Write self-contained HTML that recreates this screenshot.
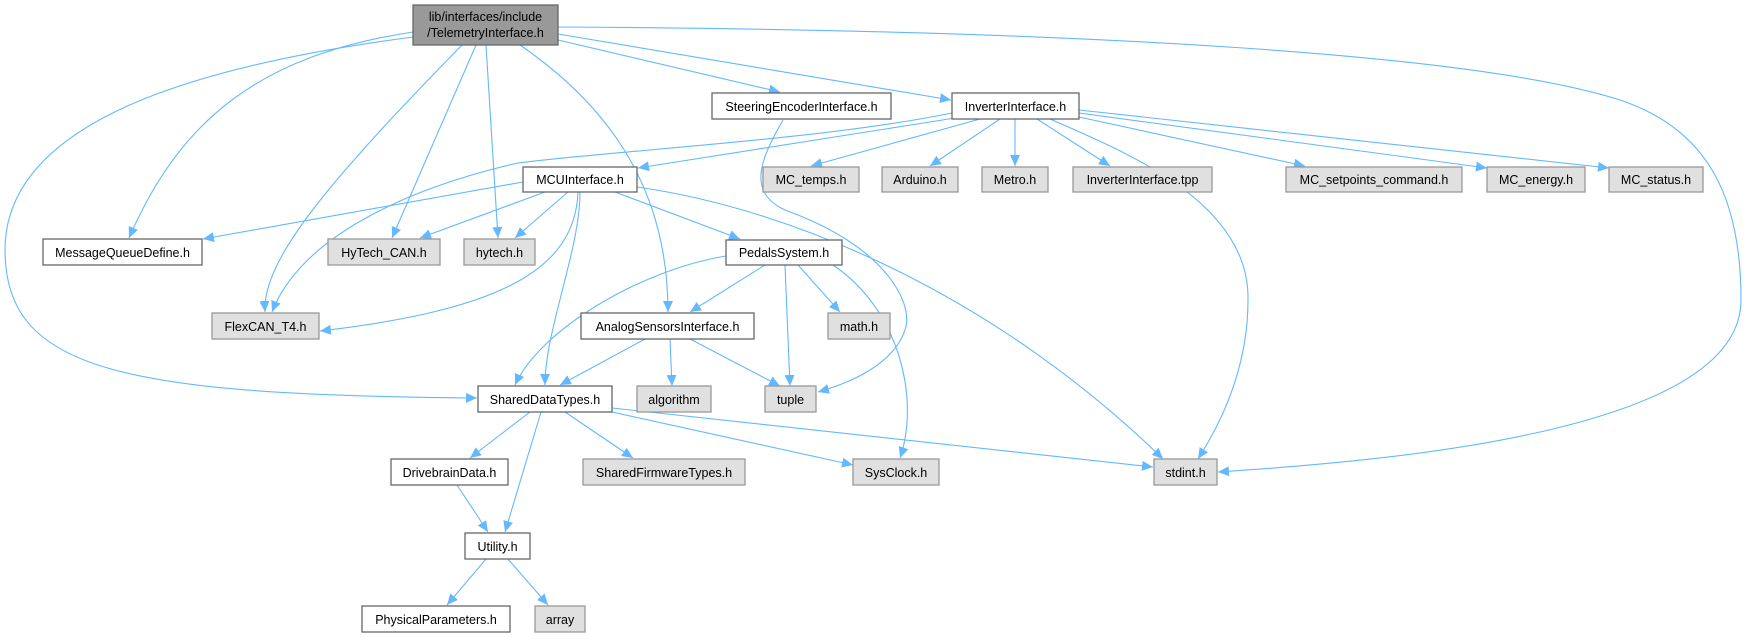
<!DOCTYPE html>
<html><head><meta charset="utf-8"><style>
html,body{margin:0;padding:0;background:#fff;}
svg{display:block;}
text{font-family:"Liberation Sans",Arial,sans-serif;font-size:12.5px;fill:#000;}
.w{fill:#fff;stroke:#666;stroke-width:1.3}
.g{fill:#e0e0e0;stroke:#999;stroke-width:1.3}
.e{fill:none;stroke:#63b8ff;stroke-width:1.1}
</style></head><body>
<svg width="1745" height="637" viewBox="0 0 1745 637" xmlns="http://www.w3.org/2000/svg">
<defs><marker id="a" markerUnits="userSpaceOnUse" markerWidth="12" markerHeight="10" refX="11" refY="5" orient="auto"><path d="M0,0 L11,5 L0,10 z" fill="#63b8ff"/></marker></defs>
<g class="e" marker-end="url(#a)">
<path d="M413,32 C260,55 180,120 129,238"/>
<path d="M413,37 C200,65 5,120 5,250 C5,370 120,395 477,398"/>
<path d="M462,45 C330,180 262,260 265,312"/>
<path d="M476,45 L392,238"/>
<path d="M486,45 L498,238"/>
<path d="M520,45 C600,100 668,180 668,312"/>
<path d="M558,40 L780,92"/>
<path d="M558,34 L951,100"/>
<path d="M558,27 C1100,30 1480,55 1620,100 C1710,130 1741,200 1741,300 C1741,430 1400,460 1218,472"/>
<path d="M955,118 L638,168"/>
<path d="M952,113 C820,140 620,150 518,163 C400,190 300,240 272,312"/>
<path d="M980,119 L811,166"/>
<path d="M1000,119 L930,166"/>
<path d="M1015,119 L1015,166"/>
<path d="M1037,119 L1110,166"/>
<path d="M1079,117 L1305,166"/>
<path d="M1079,113 L1487,168"/>
<path d="M1079,110 L1609,168"/>
<path d="M1050,119 C1120,150 1250,200 1248,300 C1248,380 1210,440 1198,459"/>
<path d="M523,182 L203,239"/>
<path d="M545,192 L420,238"/>
<path d="M568,192 L515,238"/>
<path d="M578,192 C575,270 500,310 320,331"/>
<path d="M580,192 C580,250 545,330 545,385"/>
<path d="M615,192 L740,239"/>
<path d="M637,187 C800,210 1000,300 1163,459"/>
<path d="M783,120 C760,160 745,195 790,212 C880,245 915,300 905,330 C895,360 860,380 818,392"/>
<path d="M726,256 C640,270 540,330 515,385"/>
<path d="M765,265 L690,312"/>
<path d="M785,265 L790,386"/>
<path d="M798,265 L840,312"/>
<path d="M833,265 C900,310 920,400 900,458"/>
<path d="M645,339 L560,385"/>
<path d="M670,339 L672,386"/>
<path d="M690,339 L780,386"/>
<path d="M530,412 L470,458"/>
<path d="M541,412 L505,532"/>
<path d="M565,412 L633,458"/>
<path d="M612,412 L853,465"/>
<path d="M612,408 L1153,467"/>
<path d="M457,485 L488,532"/>
<path d="M486,559 L447,605"/>
<path d="M508,559 L548,605"/>
</g>
<g text-anchor="middle">
<rect x="413" y="5" width="145" height="40" fill="#999" stroke="#666" stroke-width="1.3"/>
<text x="485.5" y="21">lib/interfaces/include</text><text x="485.5" y="37">/TelemetryInterface.h</text>
<rect class="w" x="712" y="93" width="179" height="26"/><text x="801.5" y="111">SteeringEncoderInterface.h</text>
<rect class="w" x="952" y="93" width="127" height="26"/><text x="1015.5" y="111">InverterInterface.h</text>
<rect class="w" x="523" y="167" width="114" height="25"/><text x="580" y="184">MCUInterface.h</text>
<rect class="g" x="763" y="167" width="96" height="25"/><text x="811" y="184">MC_temps.h</text>
<rect class="g" x="882" y="167" width="76" height="25"/><text x="920" y="184">Arduino.h</text>
<rect class="g" x="982" y="167" width="66" height="25"/><text x="1015" y="184">Metro.h</text>
<rect class="g" x="1073" y="167" width="139" height="25"/><text x="1142.5" y="184">InverterInterface.tpp</text>
<rect class="g" x="1286" y="167" width="176" height="25"/><text x="1374" y="184">MC_setpoints_command.h</text>
<rect class="g" x="1487" y="167" width="98" height="25"/><text x="1536" y="184">MC_energy.h</text>
<rect class="g" x="1609" y="167" width="94" height="25"/><text x="1656" y="184">MC_status.h</text>
<rect class="w" x="43" y="239" width="159" height="26"/><text x="122.5" y="257">MessageQueueDefine.h</text>
<rect class="g" x="328" y="239" width="112" height="26"/><text x="384" y="257">HyTech_CAN.h</text>
<rect class="g" x="464" y="239" width="71" height="26"/><text x="499.5" y="257">hytech.h</text>
<rect class="w" x="726" y="240" width="116" height="25"/><text x="784" y="257">PedalsSystem.h</text>
<rect class="g" x="212" y="313" width="107" height="26"/><text x="265.5" y="331">FlexCAN_T4.h</text>
<rect class="w" x="581" y="313" width="173" height="26"/><text x="667.5" y="331">AnalogSensorsInterface.h</text>
<rect class="g" x="828" y="313" width="62" height="26"/><text x="859" y="331">math.h</text>
<rect class="w" x="478" y="386" width="134" height="26"/><text x="545" y="404">SharedDataTypes.h</text>
<rect class="g" x="637" y="386" width="74" height="26"/><text x="674" y="404">algorithm</text>
<rect class="g" x="765" y="386" width="51" height="26"/><text x="790.5" y="404">tuple</text>
<rect class="w" x="391" y="459" width="117" height="26"/><text x="449.5" y="477">DrivebrainData.h</text>
<rect class="g" x="583" y="459" width="162" height="26"/><text x="664" y="477">SharedFirmwareTypes.h</text>
<rect class="g" x="853" y="459" width="86" height="26"/><text x="896" y="477">SysClock.h</text>
<rect class="g" x="1154" y="459" width="63" height="26"/><text x="1185.5" y="477">stdint.h</text>
<rect class="w" x="465" y="533" width="65" height="26"/><text x="497.5" y="551">Utility.h</text>
<rect class="w" x="362" y="606" width="148" height="26"/><text x="436" y="624">PhysicalParameters.h</text>
<rect class="g" x="535" y="606" width="50" height="26"/><text x="560" y="624">array</text>
</g>
</svg>
</body></html>
